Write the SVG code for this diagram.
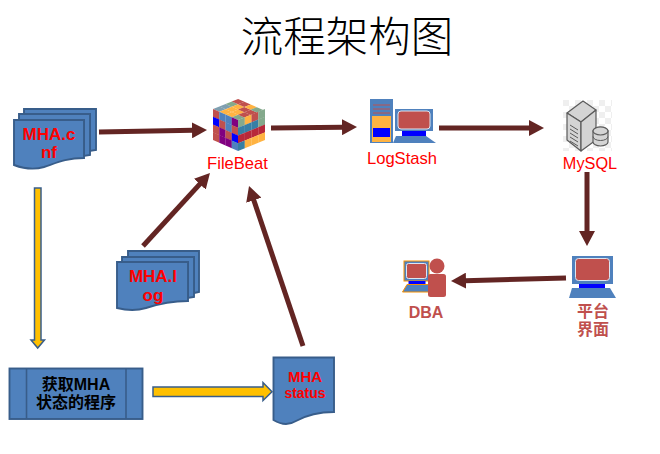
<svg xmlns="http://www.w3.org/2000/svg" width="660" height="454" viewBox="0 0 660 454">
<style>
.doc{fill:#4f81bd;stroke:#385d8a;stroke-width:1.900}
.arrow{fill:none;stroke:#632523;stroke-width:5;marker-end:url(#head)}
.yellow{fill:#ffc000;stroke:#385d8a;stroke-width:1.500}
.red{fill:#ff0000;font-family:"Liberation Sans","Noto Sans CJK SC",sans-serif;text-anchor:middle}
.redb{fill:#ff0000;font-family:"Liberation Sans",sans-serif;font-weight:bold;text-anchor:middle}
.lab{fill:#c0504d;font-family:"Liberation Sans","Noto Sans CJK SC",sans-serif;font-weight:bold;text-anchor:middle;font-size:16px}
.blk{fill:#000;font-family:"Liberation Sans","Noto Sans CJK SC",sans-serif;font-weight:bold;text-anchor:middle;font-size:16px}
.scr{fill:#c0504d;stroke:#dce6f2;stroke-width:1}
.fr{fill:#4f81bd}
.st{fill:#0000ff}
.sv{fill:#d4d4d4;stroke:#5a5a5a;stroke-width:1.200;stroke-linejoin:round}
.r{fill:#c0504d}.b{fill:#0000ff}.p{fill:#800080}.s{fill:#4f81bd}.g{fill:#84a98c}.o{fill:#ffb342}.t{fill:#377fa5}.d{fill:#b8283a}.m{fill:#7f9fb0}
</style>
<defs>
<marker id="head" viewBox="0 0 15 16" refX="1" refY="8" markerWidth="15" markerHeight="16" markerUnits="userSpaceOnUse" orient="auto"><path d="M0 0L15 8L0 16Z" fill="#632523"/></marker>
<pattern id="chk" width="12" height="12" patternUnits="userSpaceOnUse" x="563" y="100"><rect width="12" height="12" fill="#fff"/><rect width="6" height="6" fill="#efefef"/><rect x="6" y="6" width="6" height="6" fill="#efefef"/></pattern>
</defs>

<text x="347" y="52" font-family="'Noto Sans CJK SC',sans-serif" font-weight="300" font-size="42.500" text-anchor="middle" fill="#000">流程架构图</text>

<g id="connectors">
<path class="arrow" d="M99 132L193 130.300"/>
<path class="arrow" d="M271 128L343 127.200"/>
<path class="arrow" d="M439 128L530 128"/>
<path class="arrow" d="M587 172L587 232"/>
<path class="arrow" d="M566 278L465 280.700"/>
<path class="arrow" d="M143 246L200.500 183.400"/>
<path class="arrow" d="M303 346L253.500 199.300"/>
<path class="yellow" d="M34.500 188H41V340H44.500L37.700 348L31 340H34.500Z"/>
<path class="yellow" d="M153 387H263V382.500L272 391.700L263 400.500V396.500H153Z"/>
</g>

<g id="mha-cnf">
<path class="doc" d="M24 109H96V150L90 151V114H24Z"/>
<path class="doc" d="M19 114H90V155L84 156V120H19Z"/>
<path class="doc" d="M14 120H84V158C66 158 56 163 44 167C34 170 22 168 14 165Z"/>
<text class="redb" x="49" y="140" font-size="17">MHA.c</text>
<text class="redb" x="49" y="158" font-size="17">nf</text>
</g>

<g id="filebeat">
<g transform="matrix(6.250 2.750 6.250 -2.500 213 109)">
<rect class="m" x="0" y="0" width="1.020" height="1.020"/><rect class="m" x="0" y="1" width="1.020" height="1.020"/><rect class="g" x="0" y="2" width="1.020" height="1.020"/><rect class="r" x="0" y="3" width="1.020" height="1.020"/>
<rect class="o" x="1" y="0" width="1.020" height="1.020"/><rect class="o" x="1" y="1" width="1.020" height="1.020"/><rect class="o" x="1" y="2" width="1.020" height="1.020"/><rect class="r" x="1" y="3" width="1.020" height="1.020"/>
<rect class="o" x="2" y="0" width="1.020" height="1.020"/><rect class="o" x="2" y="1" width="1.020" height="1.020"/><rect class="r" x="2" y="2" width="1.020" height="1.020"/><rect class="o" x="2" y="3" width="1.020" height="1.020"/>
<rect class="g" x="3" y="0" width="1.020" height="1.020"/><rect class="r" x="3" y="1" width="1.020" height="1.020"/><rect class="r" x="3" y="2" width="1.020" height="1.020"/><rect class="g" x="3" y="3" width="1.020" height="1.020"/>
</g>
<g transform="matrix(6.250 2.750 0 7.750 213 109)">
<rect class="r" x="0" y="0" width="1.020" height="1.020"/><rect class="b" x="0" y="1" width="1.020" height="1.020"/><rect class="r" x="0" y="2" width="1.020" height="1.020"/><rect class="r" x="0" y="3" width="1.020" height="1"/>
<rect class="s" x="1" y="0" width="1.020" height="1.020"/><rect class="r" x="1" y="1" width="1.020" height="1.020"/><rect class="p" x="1" y="2" width="1.020" height="1.020"/><rect class="p" x="1" y="3" width="1.020" height="1"/>
<rect class="s" x="2" y="0" width="1.020" height="1.020"/><rect class="s" x="2" y="1" width="1.020" height="1.020"/><rect class="r" x="2" y="2" width="1.020" height="1.020"/><rect class="p" x="2" y="3" width="1.020" height="1"/>
<rect class="p" x="3" y="0" width="1.020" height="1.020"/><rect class="r" x="3" y="1" width="1.020" height="1.020"/><rect class="b" x="3" y="2" width="1.020" height="1.020"/><rect class="s" x="3" y="3" width="1.020" height="1"/>
</g>
<g transform="matrix(6.750 -2.750 0 7.750 238 120)">
<rect class="g" x="0" y="0" width="1.020" height="1.020"/><rect class="t" x="0" y="1" width="1.020" height="1.020"/><rect class="d" x="0" y="2" width="1.020" height="1.020"/><rect class="t" x="0" y="3" width="1.020" height="1"/>
<rect class="o" x="1" y="0" width="1.020" height="1.020"/><rect class="t" x="1" y="1" width="1.020" height="1.020"/><rect class="d" x="1" y="2" width="1.020" height="1.020"/><rect class="o" x="1" y="3" width="1.020" height="1"/>
<rect class="r" x="2" y="0" width="1.020" height="1.020"/><rect class="t" x="2" y="1" width="1.020" height="1.020"/><rect class="d" x="2" y="2" width="1.020" height="1.020"/><rect class="o" x="2" y="3" width="1.020" height="1"/>
<rect class="g" x="3" y="0" width="1" height="1.020"/><rect class="g" x="3" y="1" width="1" height="1.020"/><rect class="d" x="3" y="2" width="1" height="1.020"/><rect class="o" x="3" y="3" width="1" height="1"/>
</g>
<text class="red" x="237.500" y="169" font-size="16.600">FileBeat</text>
</g>

<g id="logstash">
<rect class="fr" x="370" y="99" width="23" height="44"/>
<rect x="372" y="116" width="19" height="26" fill="#ffb342"/>
<path d="M373 105H390M373 109H390M373 113H390" stroke="#c0504d" stroke-width="1"/>
<rect class="st" x="373" y="128" width="17" height="9"/>
<rect class="fr" x="395" y="109" width="38" height="22"/>
<rect class="scr" x="398" y="111" width="32" height="18" rx="3"/>
<rect class="st" x="402" y="131" width="24" height="5"/>
<polygon class="fr" points="396,136 426,136 436,143 393,143"/>
<text class="red" x="402" y="164" font-size="16.600">LogStash</text>
</g>

<g id="mysql">
<rect x="563" y="100" width="49" height="51" fill="url(#chk)"/>
<polygon class="sv" points="567,113 583,101 596,110 581,122"/>
<polygon class="sv" points="567,113 581,122 581,151 567,140"/>
<polygon class="sv" points="581,122 596,110 596,140 581,151"/>
<path d="M570 125L578 130M570 129L578 134M570 133L578 138M570 137L578 142M570 141L578 146" stroke="#5a5a5a" stroke-width="1"/>
<path class="sv" d="M593 131A7.500 4 0 0 1 608 131V142A7.500 4 0 0 1 593 142Z"/>
<ellipse class="sv" cx="600.500" cy="131" rx="7.500" ry="4"/>
<path d="M593 136.500A7.500 4 0 0 0 608 136.500" fill="none" stroke="#5a5a5a" stroke-width="1"/>
<text class="red" x="590" y="169" font-size="16.300">MySQL</text>
</g>

<g id="platform">
<rect class="fr" x="572" y="256" width="41" height="28"/>
<rect class="scr" x="575.500" y="258.500" width="34" height="22" rx="3"/>
<rect class="st" x="579" y="284" width="26" height="4.500"/>
<polygon class="fr" points="572,288 610,288 616,298 569,298"/>
<text class="lab" x="593" y="317">平台</text>
<text class="lab" x="593" y="335">界面</text>
</g>

<g id="dba">
<rect x="404" y="261" width="25" height="20" fill="#4f81bd" stroke="#f79000" stroke-width="1"/>
<rect class="scr" x="406.500" y="263.500" width="20" height="15" rx="2"/>
<rect class="st" x="408.500" y="281" width="17" height="3.500"/>
<polygon points="407,284.500 429,284.500 429,292 402.500,292" fill="#4f81bd" stroke="#f79000" stroke-width="1"/>
<circle cx="437" cy="266" r="7.500" fill="#c0504d"/>
<rect x="428" y="274" width="18" height="23" rx="2.500" fill="#c0504d"/>
<text class="lab" x="426" y="318" font-size="16.500">DBA</text>
</g>

<g id="mha-log">
<path class="doc" d="M128 251H199V292L194 293V257H128Z"/>
<path class="doc" d="M122 257H194V297L188 298V262H122Z"/>
<path class="doc" d="M117 262H188V301C170 301 158 304 146 308C136 311 125 310 117 308Z"/>
<text class="redb" x="153" y="282" font-size="17">MHA.l</text>
<text class="redb" x="153" y="301" font-size="17">og</text>
</g>

<g id="program">
<rect class="doc" x="9.500" y="368.500" width="133" height="50.500"/>
<path d="M26.500 368.500V419M126 368.500V419" stroke="#385d8a" stroke-width="1.600" fill="none"/>
<text class="blk" x="76" y="390">获取MHA</text>
<text class="blk" x="76" y="408">状态的程序</text>
</g>

<g id="mha-status">
<path class="doc" d="M273.500 357.500H334V412C316 412 305 416 296 421C288 426 280 424 273.500 420Z"/>
<text class="redb" x="305" y="382" font-size="15">MHA</text>
<text class="redb" x="305" y="398" font-size="14">status</text>
</g>
</svg>
